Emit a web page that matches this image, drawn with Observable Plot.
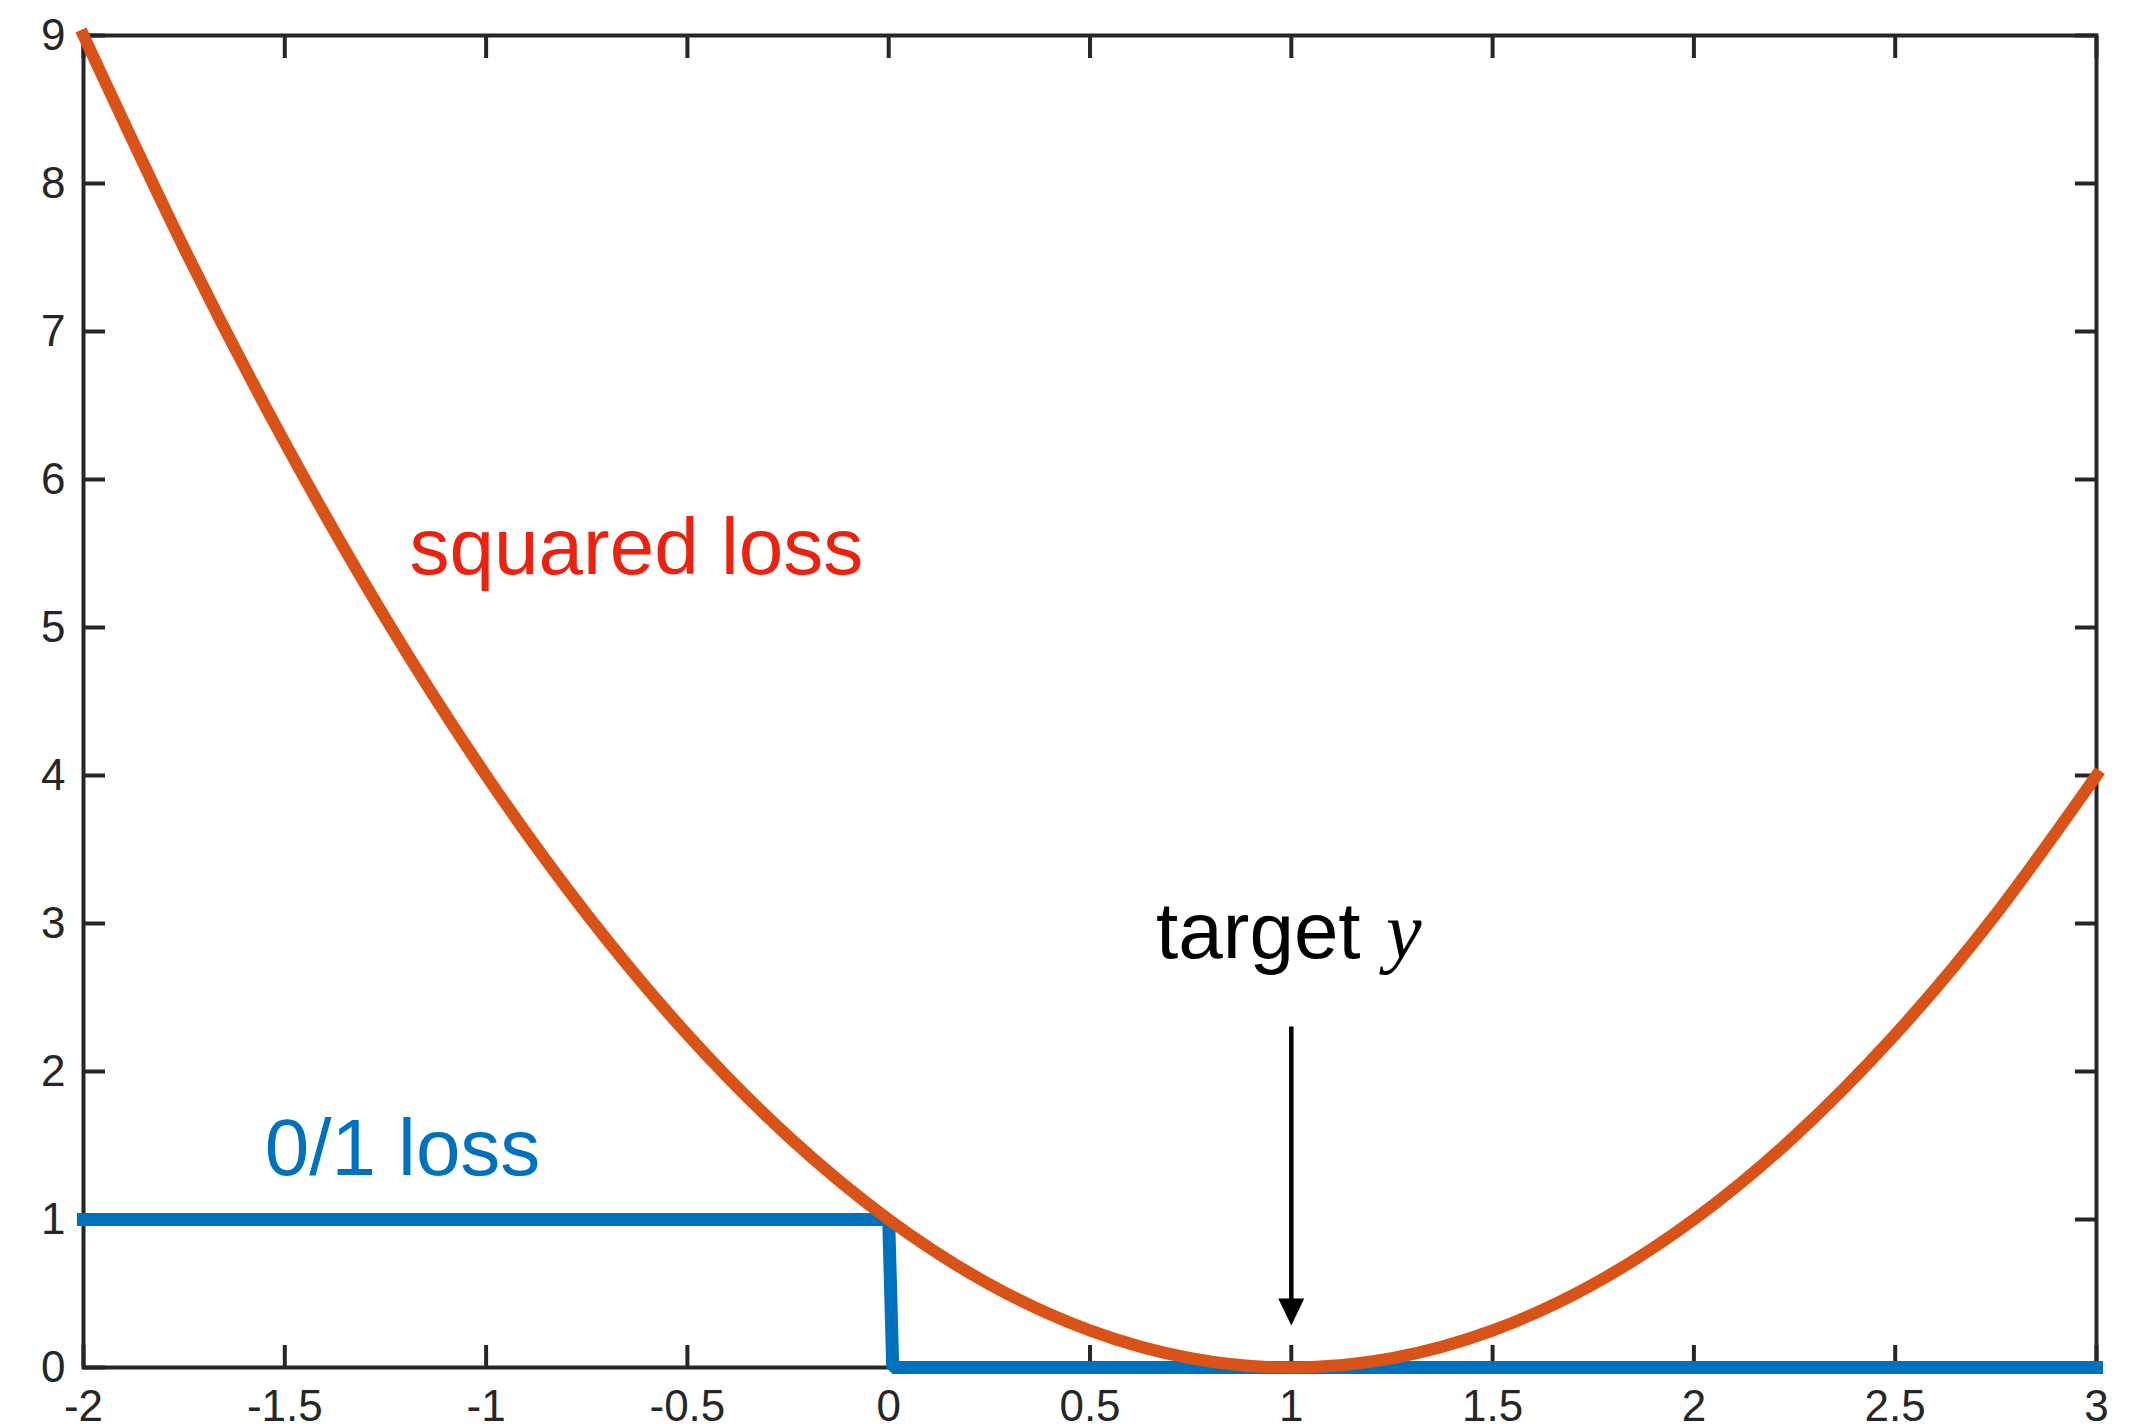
<!DOCTYPE html>
<html>
<head>
<meta charset="utf-8">
<script src="https://cdn.jsdelivr.net/npm/d3@7"></script>
<script src="https://cdn.jsdelivr.net/npm/@observablehq/plot@0.6"></script>
<style>
  html, body { margin: 0; padding: 0; background: #ffffff; }
  #chart svg { display: block; }
</style>
</head>
<body>
<div id="chart"></div>
<script>
// Axis ticks
const xTicks = [-2, -1.5, -1, -0.5, 0, 0.5, 1, 1.5, 2, 2.5, 3];
const yTicks = [0, 1, 2, 3, 4, 5, 6, 7, 8, 9];

// Squared loss, sampled every 0.25
const squaredX = [-2, -1.75, -1.5, -1.25, -1, -0.75, -0.5, -0.25, 0, 0.25, 0.5, 0.75, 1, 1.25, 1.5, 1.75, 2, 2.25, 2.5, 2.75, 3];
const squaredY = [9, 7.5625, 6.25, 5.0625, 4, 3.0625, 2.25, 1.5625, 1, 0.5625, 0.25, 0.0625, 0, 0.0625, 0.25, 0.5625, 1, 1.5625, 2.25, 3.0625, 4];

// 0/1 loss (step down just after zero)
const zeroOneX = [-2, 0, 0.01, 3];
const zeroOneY = [1, 1, 0, 0];

// Annotations
const annotations = [
  {x: -1.19, y: 5.36, text: "squared loss", color: "#E9230F", font: "Liberation Sans, Helvetica, Arial, sans-serif", style: "normal"},
  {x: -1.55, y: 1.30, text: "0/1 loss", color: "#0072BD", font: "Liberation Sans, Helvetica, Arial, sans-serif", style: "normal"},
  {x: 0.664, y: 2.77, text: "target", color: "#000000", font: "Liberation Sans, Helvetica, Arial, sans-serif", style: "normal"},
  {x: 1.235, y: 2.77, text: "y", color: "#000000", font: "Liberation Serif, Times New Roman, serif", style: "italic"}
];

// Target arrow
const target = [{x: 1, top: 2.3, tip: 0.284}];

const squared = squaredX.map((x, i) => ({x, y: squaredY[i]}));
const zeroOne = zeroOneX.map((x, i) => ({x, y: zeroOneY[i]}));

const axisColor = "#262626";
const tickFont = 44;

const arrowHead = {
  draw(context, l) {
    context.moveTo(0, -l);
    context.lineTo(-13, 0);
    context.lineTo(13, 0);
    context.closePath();
  }
};

const chart = Plot.plot({
  width: 2152,
  height: 1424,
  marginLeft: 83,
  marginRight: 56,
  marginTop: 35,
  marginBottom: 57,
  style: {background: "#ffffff", fontFamily: "Liberation Sans, Helvetica, Arial, sans-serif", overflow: "visible"},
  x: {domain: [-2, 3]},
  y: {domain: [0, 9]},
  marks: [
    // inward ticks on all four sides
    Plot.axisX(xTicks, {anchor: "bottom", tickSize: -22, fill: "none", stroke: axisColor, strokeWidth: 4, label: null}),
    Plot.axisX(xTicks, {anchor: "top", tickSize: -22, fill: "none", stroke: axisColor, strokeWidth: 4, label: null}),
    Plot.axisY(yTicks, {anchor: "left", tickSize: -22, fill: "none", stroke: axisColor, strokeWidth: 4, label: null}),
    Plot.axisY(yTicks, {anchor: "right", tickSize: -22, fill: "none", stroke: axisColor, strokeWidth: 4, label: null}),
    // tick labels
    Plot.axisX(xTicks, {anchor: "bottom", tickSize: 0, tickPadding: 22, fill: axisColor, fontSize: tickFont, tickFormat: d => String(d), label: null}),
    Plot.axisY(yTicks, {anchor: "left", tickSize: 0, tickPadding: 18, fill: axisColor, fontSize: tickFont, tickFormat: d => String(d), label: null}),
    Plot.frame({stroke: axisColor, strokeWidth: 4}),
    // data
    Plot.line(zeroOne, {x: "x", y: "y", stroke: "#0072BD", strokeWidth: 13, strokeLinecap: "square", strokeLinejoin: "miter"}),
    Plot.line(squared, {x: "x", y: "y", curve: "natural", stroke: "#D95319", strokeWidth: 12, strokeLinecap: "square", strokeLinejoin: "round"}),
    // annotations
    Plot.ruleX(target, {x: "x", y1: "top", y2: "tip", stroke: "#000000", strokeWidth: 4.5, insetBottom: 20}),
    Plot.vector(target, {x: "x", y: "tip", length: 27, rotate: 180, anchor: "end", shape: arrowHead, fill: "#000000", stroke: "none"}),
    ...annotations.map(a => Plot.text([a], {
      x: "x", y: "y", text: "text", fill: a.color, fontSize: 80, fontFamily: a.font, fontStyle: a.style,
      textAnchor: "start", lineAnchor: "bottom"
    }))
  ]
});

document.getElementById("chart").appendChild(chart);
</script>
</body>
</html>
